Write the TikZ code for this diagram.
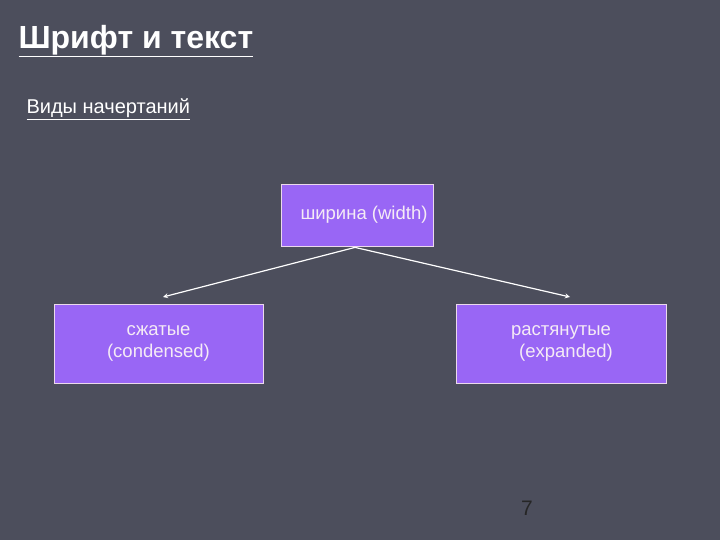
\documentclass[tikz,border=0pt]{standalone}
\usepackage{fontspec}
\setmainfont{Liberation Sans}
\definecolor{bg}{RGB}{76,78,92}
\definecolor{boxfill}{RGB}{153,102,245}
\begin{document}
\begin{tikzpicture}[x=1pt,y=-1pt,
  box/.style={draw=white!85!violet,line width=0.8pt,fill=boxfill,text=white!92!violet,align=center,font=\fontsize{18.5}{22}\selectfont,inner sep=0pt},
  conn/.style={draw=white,line width=1.2pt,-stealth}]
\fill[bg] (0,0) rectangle (720,540);
\node[anchor=west,text=white,font=\bfseries\fontsize{32}{36}\selectfont] (t) at (15,41) {\underline{Шрифт и текст}};
\node[anchor=west,text=white,font=\fontsize{20}{24}\selectfont] (s) at (23,109) {\underline{Виды начертаний}};
\node[box,minimum width=152,minimum height=62] (w) at (357,215) {\hspace{14pt}ширина (width)};
\node[box,minimum width=209,minimum height=79] (c) at (158.5,343.5) {сжатые\\(condensed)};
\node[box,minimum width=210,minimum height=79] (e) at (561,343.5) {растянутые\\\hspace{10pt}(expanded)};
\draw[conn] (w.south) ++(-2,1) coordinate (o) -- (163,297);
\draw[conn] (o) -- (570,297);
\node[text=black!85,font=\fontsize{21}{24}\selectfont] (n) at (527,508) {7};
\end{tikzpicture}
\end{document}
